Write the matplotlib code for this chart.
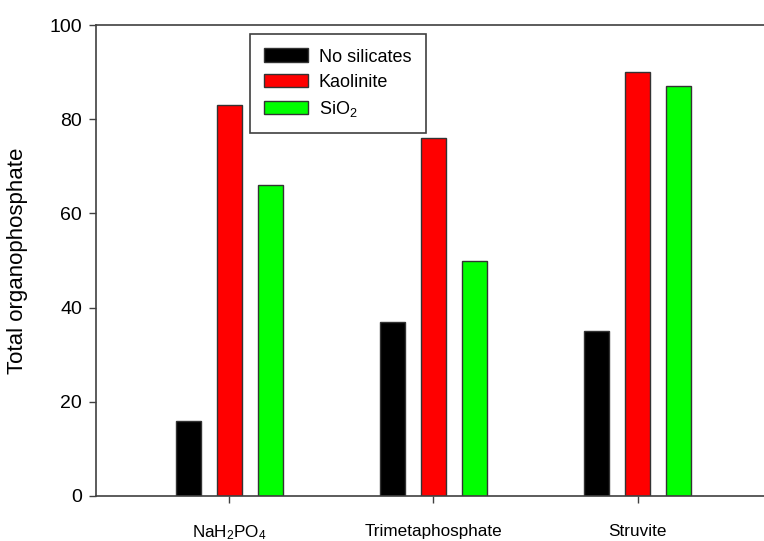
import matplotlib
matplotlib.use('Agg')
import matplotlib.pyplot as plt
import numpy as np

plt.rcParams['font.family'] = ['Liberation Sans', 'DejaVu Sans']
plt.rcParams['mathtext.fontset'] = 'custom'
plt.rcParams['mathtext.rm'] = 'Liberation Sans'
plt.rcParams['mathtext.it'] = 'Liberation Sans:italic'

# data
categories = ['NaH$_2$PO$_4$', 'Trimetaphosphate', 'Struvite']
series_names = ['No silicates', 'Kaolinite', 'SiO$_2$']
no_silicates = [16, 37, 35]
kaolinite = [83, 76, 90]
sio2 = [66, 50, 87]
y_ticks = [0, 20, 40, 60, 80, 100]

colors = ['black', '#ff0000', '#00ff00']
edge = '#333333'
spine_col = '#404040'

fig = plt.figure(figsize=(7.64, 5.41), dpi=100)
# axes runs a little past the right edge, as in the reference
ax = fig.add_axes([96 / 764, 45 / 541, 675 / 764, 471 / 541])

x = np.arange(len(categories))
width = 0.124
step = 0.2
for i, (vals, name) in enumerate(zip([no_silicates, kaolinite, sio2], series_names)):
    ax.bar(x + (i - 1) * step, vals, width, color=colors[i], edgecolor=edge,
           linewidth=1, label=name, zorder=2)

ax.set_xlim(-0.653, 2.653)
ax.set_ylim(0, 100)
ax.set_yticks(y_ticks)
ax.set_xticks(x)
ax.set_xticklabels(categories)

for side in ['left', 'bottom', 'top']:
    ax.spines[side].set_color(spine_col)
    ax.spines[side].set_linewidth(1.2)
ax.spines['right'].set_visible(False)

ax.tick_params(axis='y', direction='out', length=5, width=1, color=spine_col,
               labelsize=14, pad=5)
ax.tick_params(axis='x', direction='out', length=5, width=1, color=spine_col,
               labelsize=12.3, pad=15)

ax.set_ylabel('Total organophosphate', fontsize=16)
ax.yaxis.set_label_coords(-0.1007, 0.5)

leg = ax.legend(loc='upper left', bbox_to_anchor=(250 / 764, 1 - 34 / 541),
                bbox_transform=fig.transFigure, borderaxespad=0, fontsize=13,
                fancybox=False, frameon=True, handlelength=2.39, handleheight=0.78,
                handletextpad=0.61, labelspacing=0.45, borderpad=0.8)
leg.get_frame().set_edgecolor(spine_col)
leg.get_frame().set_linewidth(1.2)
leg.get_frame().set_alpha(1)

fig.savefig('out.png', dpi=100)
